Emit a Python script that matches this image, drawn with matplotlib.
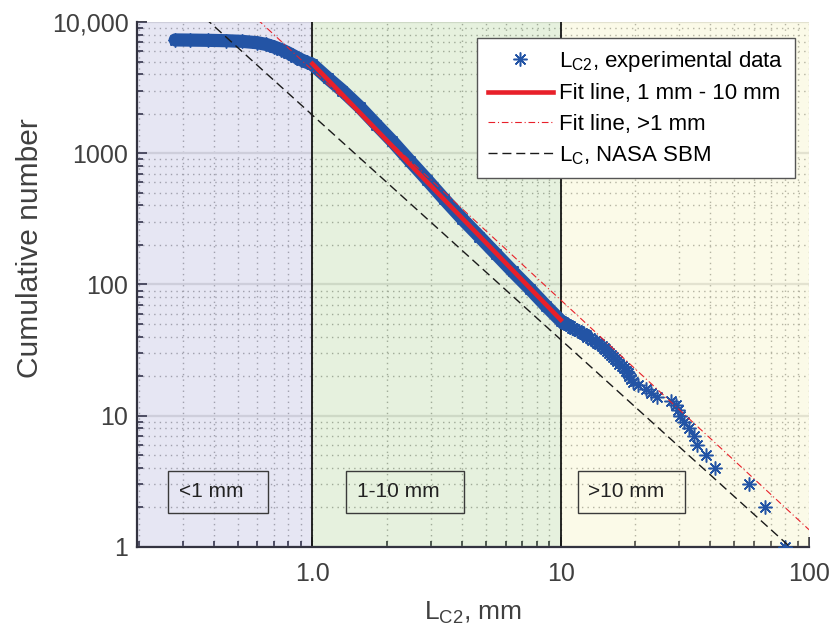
import matplotlib
matplotlib.use("Agg")
import matplotlib.pyplot as plt
from matplotlib.lines import Line2D
from matplotlib.patches import Rectangle
import numpy as np

plt.rcParams['font.family'] = ['Liberation Sans', 'DejaVu Sans']
plt.rcParams['mathtext.fontset'] = 'custom'
plt.rcParams['mathtext.rm'] = 'Liberation Sans'
plt.rcParams['mathtext.it'] = 'Liberation Sans:italic'

# cumulative fragment count vs characteristic length L_C2 (mm)
size_dense = [0.28, 0.32, 0.38, 0.45, 0.52, 0.60, 0.65, 0.70, 0.75, 0.80, 0.85,
              0.90, 0.95, 1.00, 1.15, 1.32, 1.55, 1.81, 2.10, 2.46, 2.90, 3.40,
              4.00, 4.70, 5.50, 6.40, 7.50, 8.70, 10.0]
count_dense = [7300, 7280, 7250, 7200, 7120, 6950, 6750, 6450, 6150, 5800, 5450,
               5150, 4930, 4750, 3750, 3000, 2250, 1650, 1230, 880, 625, 445,
               318, 232, 170, 126, 93, 69, 53]

size_tail = [10.2, 10.35, 10.5, 10.7, 10.9, 11.1, 11.3, 11.6, 11.9, 12.2, 12.4,
             12.6, 12.8, 13.1, 13.4, 13.7, 14.0, 14.3, 14.6, 14.9, 15.1, 15.4,
             15.7, 16.0, 16.3, 16.6, 16.9, 17.2, 17.6, 18.0, 18.3, 18.6, 18.9,
             19.2, 19.6, 20.5, 22.0, 23.2, 24.4, 27.8, 29.0, 29.6, 30.2, 31.5,
             32.8, 34.5, 35.3, 38.5, 41.8, 57.3, 66.5, 80.0]
count_tail = list(range(52, 0, -1))

# power-law fits N = k * L^p
fit_10_k, fit_10_p = 4800, -1.95     # 1 mm - 10 mm
fit_1_k, fit_1_p = 4285, -1.75       # > 1 mm
nasa_k, nasa_p = 1950, -1.71         # NASA SBM

fig = plt.figure(figsize=(8.34, 6.32), dpi=100)
ax = fig.add_axes([0.164, 0.1345, 0.806, 0.8307])
ax.set_xscale('log')
ax.set_yscale('log')
ax.set_xlim(0.196, 100)
ax.set_ylim(1, 10000)

# size regimes
ax.axvspan(0.196, 1, color=(130/255, 130/255, 195/255), alpha=0.2, lw=0, zorder=1)
ax.axvspan(1, 10, color=(130/255, 185/255, 90/255), alpha=0.2, lw=0, zorder=1)
ax.axvspan(10, 100, color=(235/255, 230/255, 140/255), alpha=0.2, lw=0, zorder=1)

dots = (0, (1, 3))
ax.set_axisbelow(True)
ax.xaxis.grid(True, which='both', ls=dots, color='#a8a8a8', lw=1.0)
ax.yaxis.grid(True, which='minor', ls=dots, color='#a8a8a8', lw=1.0)
ax.yaxis.grid(True, which='major', ls='-', color='#e2e2e2', lw=1.6)

ax.axvline(1, color='#151515', lw=1.3, zorder=2)
ax.axvline(10, color='#151515', lw=1.3, zorder=2)

blue = '#2354a5'
ax.plot(size_dense, count_dense, color=blue, lw=9.5, solid_capstyle='round', zorder=3)
ax.plot(size_dense + size_tail, count_dense + count_tail, ls='none',
        marker=(8, 2, 0), ms=10, mec=blue, mew=1.1, zorder=3)

x1 = np.array([1.0, 10.0])
ax.plot(x1, fit_10_k * x1 ** fit_10_p, color='#e8202a', lw=3.3, zorder=4)
x2 = np.array([0.5, 100.0])
ax.plot(x2, fit_1_k * x2 ** fit_1_p, color='#e8202a', lw=0.8,
        ls=(0, (6, 2.5, 1, 2.5)), zorder=5)
x3 = np.array([0.2, 100.0])
ax.plot(x3, nasa_k * x3 ** nasa_p, color='#1a1a1a', lw=1.0,
        ls=(0, (6.5, 3.5)), zorder=5)

# region labels
boxes = [(0.046, 0.195, 0.0625, '<1 mm'),
         (0.311, 0.487, 0.327, '1-10 mm'),
         (0.656, 0.815, 0.671, '>10 mm')]
for x0, x1b, xt, txt in boxes:
    ax.add_patch(Rectangle((x0, 0.065), x1b - x0, 0.08, transform=ax.transAxes,
                           fill=False, ec='#3a3a3a', lw=1.0, zorder=6))
    ax.text(xt, 0.105, txt, transform=ax.transAxes, fontsize=15,
            color='#222222', va='center', ha='left', zorder=6)

ax.set_xticks([1, 10, 100], ['1.0', '10', '100'])
ax.set_yticks([1, 10, 100, 1000, 10000], ['1', '10', '100', '1000', '10,000'])
ax.tick_params(which='both', direction='in', colors='#333340', labelcolor='#404040',
               labelsize=18, width=1.3)
ax.tick_params(which='major', length=7)
ax.tick_params(which='minor', length=4)
ax.tick_params(axis='x', pad=11)
ax.tick_params(axis='y', pad=6)

for s in ['top', 'right']:
    ax.spines[s].set_visible(False)
for s in ['left', 'bottom']:
    ax.spines[s].set_color('#333340')
    ax.spines[s].set_linewidth(1.6)

ax.set_xlabel(r'L$_\mathregular{C2}$, mm', fontsize=19, color='#404040')
ax.xaxis.set_label_coords(0.5, -0.1)
ax.set_ylabel('Cumulative number', fontsize=21.5, color='#404040')
ax.yaxis.set_label_coords(-0.138, 0.57)

handles = [
    Line2D([], [], ls='none', marker=(8, 2, 0), ms=10, mec=blue, mew=1.1),
    Line2D([], [], color='#e8202a', lw=3.3),
    Line2D([], [], color='#e8202a', lw=0.8, ls=(0, (6, 2.5, 1, 2.5))),
    Line2D([], [], color='#1a1a1a', lw=1.0, ls=(0, (6.5, 3.5))),
]
labels = [r'L$_\mathregular{C2}$, experimental data', 'Fit line, 1 mm - 10 mm',
          'Fit line, >1 mm', r'L$_\mathregular{C}$, NASA SBM']
leg = ax.legend(handles, labels, loc='upper right', bbox_to_anchor=(0.979, 0.9695),
                borderaxespad=0, fontsize=16, fancybox=False, framealpha=1,
                edgecolor='#555555', handlelength=2.9, handletextpad=0.3,
                labelspacing=0.42, borderpad=0.5)
leg.get_frame().set_linewidth(1.0)
leg.set_zorder(10)

fig.savefig('out.png', dpi=100)
